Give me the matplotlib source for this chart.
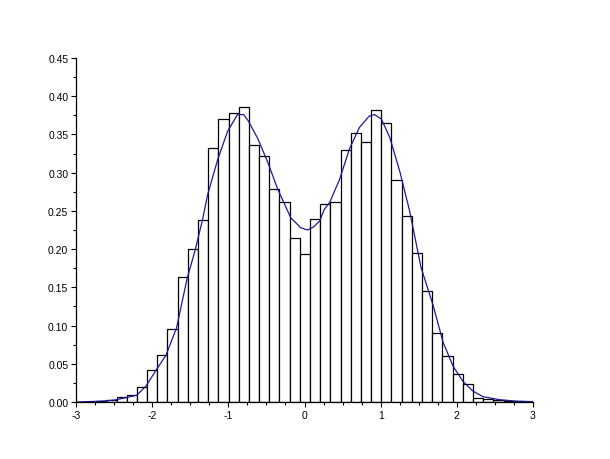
import numpy as np
import matplotlib
matplotlib.use("Agg")
import matplotlib.pyplot as plt
from matplotlib.ticker import MultipleLocator, FormatStrFormatter

# Histogram: 43 equal-width bins
bin_start = -2.869
bin_width = 0.1337
heights = [0.0, 0.0015, 0.002, 0.0065, 0.009, 0.020, 0.0415, 0.062, 0.095,
           0.164, 0.2007, 0.2377, 0.332, 0.370, 0.3786, 0.3865, 0.3367,
           0.3214, 0.279, 0.261, 0.215, 0.193, 0.240, 0.2595, 0.261, 0.330,
           0.3524, 0.3407, 0.3816, 0.3655, 0.290, 0.2438, 0.1954, 0.1448,
           0.0908, 0.0598, 0.0371, 0.024, 0.0057, 0.0035, 0.002, 0.0015, 0.0015]

# Density curve
curve_x = [-3.0, -2.75, -2.6, -2.47, -2.33, -2.2, -2.08, -1.94, -1.82, -1.68,
           -1.54, -1.44, -1.34, -1.27, -1.14, -1.01, -0.88, -0.80, -0.74,
           -0.61, -0.48, -0.35, -0.18, -0.05, 0.04, 0.12, 0.20, 0.26, 0.33,
           0.46, 0.59, 0.72, 0.85, 0.92, 1.01, 1.12, 1.25, 1.38, 1.53, 1.69,
           1.82, 1.95, 2.08, 2.21, 2.34, 2.56, 2.8, 3.0]
curve_y = [0.0, 0.0008, 0.0015, 0.003, 0.006, 0.009, 0.021, 0.043, 0.061, 0.097,
           0.162, 0.197, 0.238, 0.272, 0.317, 0.354, 0.376, 0.376, 0.368,
           0.344, 0.313, 0.278, 0.241, 0.228, 0.225, 0.229, 0.237, 0.252, 0.261,
           0.291, 0.331, 0.359, 0.374, 0.376, 0.370, 0.346, 0.302, 0.250, 0.176,
           0.126, 0.078, 0.047, 0.027, 0.0144, 0.0071, 0.003, 0.001, 0.0005]

plt.rcParams['axes.unicode_minus'] = False
plt.rcParams['font.family'] = ['Liberation Sans', 'DejaVu Sans']

fig = plt.figure(figsize=(6.1, 4.6), dpi=100)
ax = fig.add_axes([76 / 610, 1 - 403 / 460, 457 / 610, 344 / 460])

lefts = [bin_start + i * bin_width for i in range(len(heights))]
ax.bar(lefts, heights, width=bin_width, align='edge', facecolor='white',
       edgecolor='black', linewidth=0.9)
ax.plot(curve_x, curve_y, color='#1a1a9a', linewidth=0.9)

ax.set_xlim(-3, 3)
ax.set_ylim(0, 0.45)
ax.xaxis.set_major_locator(MultipleLocator(1))
ax.xaxis.set_minor_locator(MultipleLocator(0.25))
ax.yaxis.set_major_locator(MultipleLocator(0.05))
ax.yaxis.set_minor_locator(MultipleLocator(0.025))
ax.yaxis.set_major_formatter(FormatStrFormatter('%.2f'))
ax.xaxis.set_major_formatter(FormatStrFormatter('%d'))

for s in ['top', 'right']:
    ax.spines[s].set_visible(False)
for s in ['left', 'bottom']:
    ax.spines[s].set_linewidth(0.9)
ax.tick_params(which='major', length=3.5, width=0.8, labelsize=7.5, pad=2)
ax.tick_params(which='minor', length=2.5, width=0.8)

fig.savefig('out.png', dpi=100)
